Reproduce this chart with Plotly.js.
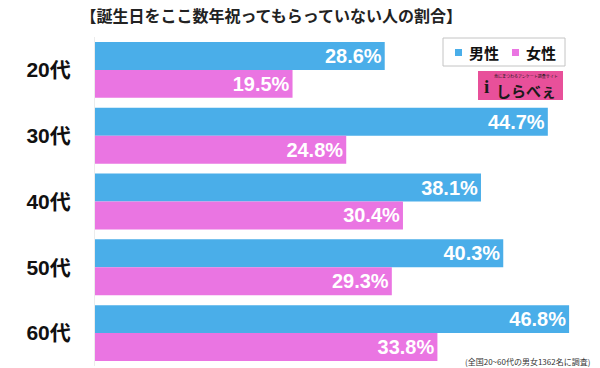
<!DOCTYPE html>
<html><head><meta charset="utf-8">
<script src="https://cdn.plot.ly/plotly-3.0.1.min.js"></script>
<style>html,body{margin:0;padding:0;background:#fff}#chart{width:600px;height:368px}</style>
</head><body><div id="chart"></div>
<script>
const categories = ['20代','30代','40代','50代','60代'];
const male = [28.6, 44.7, 38.1, 40.3, 46.8];
const female = [19.5, 24.8, 30.4, 29.3, 33.8];
const seriesNames = ['男性','女性'];
const seriesColors = ['#4aaee9','#ea75e2'];
const titleText = '【誕生日をここ数年祝ってもらっていない人の割合】';
const noteText = '(全国20~60代の男女1362名に調査)';

const fontFam = 'Liberation Sans, Noto Sans CJK JP, sans-serif';
const CJK = 'Noto Sans CJK JP, sans-serif';
const labelFont = {family: 'Liberation Sans, Arial, sans-serif', size: 20, color: '#ffffff', weight: 'bold'};

function mk(vals, name, color){
  return {
    type: 'bar', orientation: 'h', y: categories, x: vals, name: name,
    marker: {color: color, line: {width: 0}},
    text: vals.map(v => v.toFixed(1) + '%'),
    textposition: 'inside', insidetextanchor: 'end',
    textfont: labelFont, cliponaxis: false, hoverinfo: 'none'
  };
}
const data = [mk(male, seriesNames[0], seriesColors[0]), mk(female, seriesNames[1], seriesColors[1])];

const P = (px) => (px - 95) / 505;          // pixel x -> paper x
const Q = (py) => 1 - (py - 37) / 329;      // pixel y -> paper y

const layout = {
  width: 600, height: 368,
  margin: {l: 95, r: 0, t: 37, b: 2},
  paper_bgcolor: '#ffffff', plot_bgcolor: '#ffffff',
  barmode: 'group', bargap: 0.15, bargroupgap: 0,
  font: {family: fontFam},
  title: {text: titleText, x: 0.452, xanchor: 'center', y: 0.955, yanchor: 'middle', yref: 'container',
    font: {family: CJK, size: 16, color: '#222222', weight: 'bold'}},
  xaxis: {range: [0, 49.85], visible: false, fixedrange: true},
  yaxis: {autorange: 'reversed', showline: true, linecolor: '#ececec', linewidth: 1,
    showgrid: false, zeroline: false, ticks: '', ticklabelstandoff: 19,
    tickfont: {family: fontFam, size: 21, color: '#111111', weight: 'bold'}},
  showlegend: false,
  shapes: [
    {type: 'rect', xref: 'paper', yref: 'paper', x0: P(443), x1: P(565), y0: Q(66), y1: Q(38),
     fillcolor: '#ffffff', line: {width: 1, color: '#c4c4c4'}, layer: 'above'},
    {type: 'rect', xref: 'paper', yref: 'paper', x0: P(455), x1: P(462), y0: Q(56), y1: Q(49),
     fillcolor: seriesColors[0], line: {width: 0}, layer: 'above'},
    {type: 'rect', xref: 'paper', yref: 'paper', x0: P(512), x1: P(519), y0: Q(56), y1: Q(49),
     fillcolor: seriesColors[1], line: {width: 0}, layer: 'above'},
    {type: 'rect', xref: 'paper', yref: 'paper', x0: P(478), x1: P(563), y0: Q(100), y1: Q(71),
     fillcolor: '#e8509a', line: {width: 0}, layer: 'above'}
  ],
  annotations: [
    {xref: 'paper', yref: 'paper', x: P(467), y: Q(52), xanchor: 'left', yanchor: 'middle', text: seriesNames[0], showarrow: false,
     font: {family: CJK, size: 15, color: '#111111', weight: 'bold'}},
    {xref: 'paper', yref: 'paper', x: P(524), y: Q(52), xanchor: 'left', yanchor: 'middle', text: seriesNames[1], showarrow: false,
     font: {family: CJK, size: 15, color: '#111111', weight: 'bold'}},
    {xref: 'paper', yref: 'paper', x: P(526), y: Q(90), xanchor: 'center', yanchor: 'middle', text: 'しらべぇ', showarrow: false,
     font: {family: CJK, size: 15, color: '#1a1a1a', weight: 'bold'}, borderpad: 0},
    {xref: 'paper', yref: 'paper', x: P(526), y: Q(75.5), xanchor: 'center', yanchor: 'middle', text: '食にまつわるアンケート調査サイト', showarrow: false,
     font: {family: CJK, size: 4, color: '#1a1a1a'}, borderpad: 0},
    {xref: 'paper', yref: 'paper', x: P(486), y: Q(87), xanchor: 'center', yanchor: 'middle', text: 'i', showarrow: false,
     font: {family: 'Liberation Serif, serif', size: 19, color: '#1a1a1a', weight: 'bold'}, borderpad: 0},
    {xref: 'paper', yref: 'paper', x: 0.985, xanchor: 'right', y: 0.015, yanchor: 'middle', text: noteText, showarrow: false,
     font: {family: CJK, size: 8, color: '#333333'}}
  ]
};
Plotly.newPlot('chart', data, layout, {displayModeBar: false, staticPlot: true});
</script></body></html>
